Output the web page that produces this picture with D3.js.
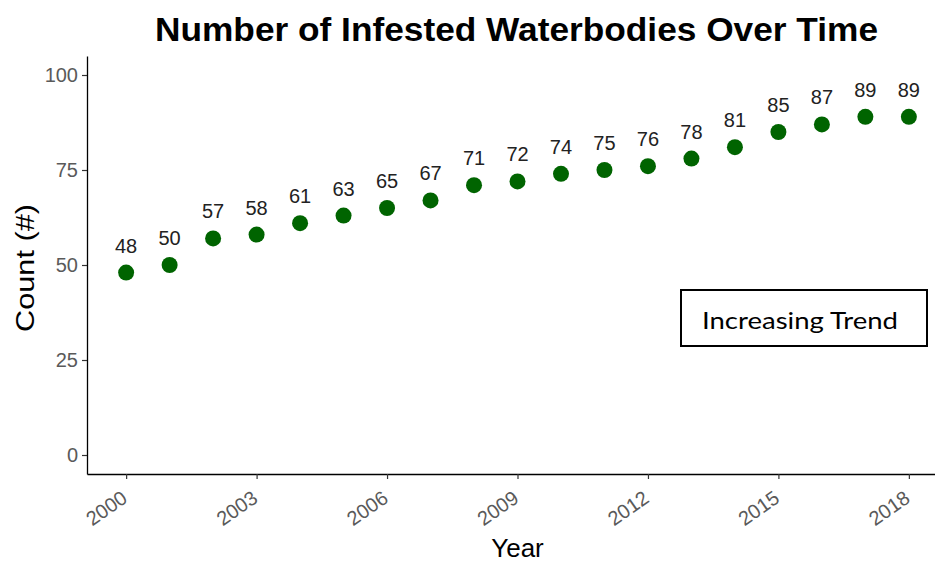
<!DOCTYPE html>
<html>
<head>
<meta charset="utf-8">
<script src="https://cdn.jsdelivr.net/npm/d3@7"></script>
<style>
  body { margin: 0; background: #fff; }
  svg { display: block; }
</style>
</head>
<body>
<div id="container"></div>
<script>
//chart data
const years = [2000, 2001, 2002, 2003, 2004, 2005, 2006, 2007, 2008, 2009,
               2010, 2011, 2012, 2013, 2014, 2015, 2016, 2017, 2018]
const counts = [48, 50, 57, 58, 61, 63, 65, 67, 71, 72, 74, 75, 76, 78, 81, 85, 87, 89, 89]
const xTicks = [2000, 2003, 2006, 2009, 2012, 2015, 2018]
const yTicks = [0, 25, 50, 75, 100]
const titleText = "Number of Infested Waterbodies Over Time"
const noteText = "Increasing Trend"

const width = 935
const height = 562
const margin = {top: 56, right: -13, bottom: 88, left: 87}
const font = "Liberation Sans, Arial, sans-serif"

//add svg
let svg = d3.select("#container")
    .append("svg")
    .attr("width", width)
    .attr("height", height)

//scales (ggplot style 5% expansion)
let x = d3.scaleLinear()
    .domain([1999.1, 2018.9])
    .range([margin.left, width - margin.right])

let y = d3.scaleLinear()
    .domain([-5, 105])
    .range([height - margin.bottom, margin.top])

//title
svg.append("text")
    .attr("x", 516.5)
    .attr("y", 41)
    .attr("text-anchor", "middle")
    .attr("font-family", font)
    .attr("font-weight", "bold")
    .attr("font-size", 33)
    .attr("textLength", 723)
    .attr("lengthAdjust", "spacingAndGlyphs")
    .attr("fill", "#000")
    .text(titleText)

//y axis
let yAxis = svg.append("g")
    .attr("transform", `translate(${margin.left},0)`)
    .call(d3.axisLeft(y).tickValues(yTicks).tickSize(5).tickSizeOuter(0).tickPadding(4))
yAxis.select(".domain").attr("stroke", "#000").attr("stroke-width", 1.3)
yAxis.selectAll(".tick line").attr("stroke", "#333").attr("stroke-width", 1.2)
yAxis.selectAll(".tick text")
    .attr("font-family", font)
    .attr("font-size", 20)
    .attr("fill", "#5a5a5a")

//x axis
let xAxis = svg.append("g")
    .attr("transform", `translate(0,${height - margin.bottom})`)
    .call(d3.axisBottom(x).tickValues(xTicks).tickFormat(d3.format("d")).tickSize(5).tickSizeOuter(0))
xAxis.select(".domain").attr("stroke", "#000").attr("stroke-width", 1.3)
xAxis.selectAll(".tick line").attr("stroke", "#333").attr("stroke-width", 1.2)
xAxis.selectAll(".tick text")
    .attr("font-family", font)
    .attr("font-size", 20)
    .attr("fill", "#5a5a5a")
    .attr("text-anchor", "end")
    .attr("x", 0)
    .attr("y", 0)
    .attr("dy", null)
    .attr("transform", "translate(2,27) rotate(-35)")

//axis titles
svg.append("text")
    .attr("x", 517.5)
    .attr("y", 557)
    .attr("text-anchor", "middle")
    .attr("font-family", font)
    .attr("font-size", 26)
    .attr("fill", "#000")
    .text("Year")

svg.append("text")
    .attr("transform", "translate(34,268) rotate(-90)")
    .attr("text-anchor", "middle")
    .attr("font-family", font)
    .attr("font-size", 26)
    .attr("textLength", 128)
    .attr("lengthAdjust", "spacingAndGlyphs")
    .attr("fill", "#000")
    .text("Count (#)")

//points
let data = years.map((yr, i) => ({year: yr, count: counts[i]}))

svg.append("g")
    .selectAll("circle")
    .data(data)
    .enter().append("circle")
    .attr("cx", d => x(d.year))
    .attr("cy", d => y(d.count))
    .attr("r", 8)
    .attr("fill", "#006400")

//value labels
svg.append("g")
    .selectAll("text")
    .data(data)
    .enter().append("text")
    .attr("x", d => x(d.year))
    .attr("y", d => y(d.count) - 20)
    .attr("text-anchor", "middle")
    .attr("font-family", font)
    .attr("font-size", 20)
    .attr("fill", "#222")
    .text(d => d.count)

//annotation box
svg.append("rect")
    .attr("x", 681)
    .attr("y", 290)
    .attr("width", 246)
    .attr("height", 56)
    .attr("fill", "#fff")
    .attr("stroke", "#000")
    .attr("stroke-width", 2)

svg.append("text")
    .attr("x", 800)
    .attr("y", 329)
    .attr("text-anchor", "middle")
    .attr("font-family", "Lato, Open Sans, sans-serif")
    .attr("font-size", 24)
    .attr("textLength", 196)
    .attr("lengthAdjust", "spacingAndGlyphs")
    .attr("fill", "#000")
    .text(noteText)
</script>
</body>
</html>
